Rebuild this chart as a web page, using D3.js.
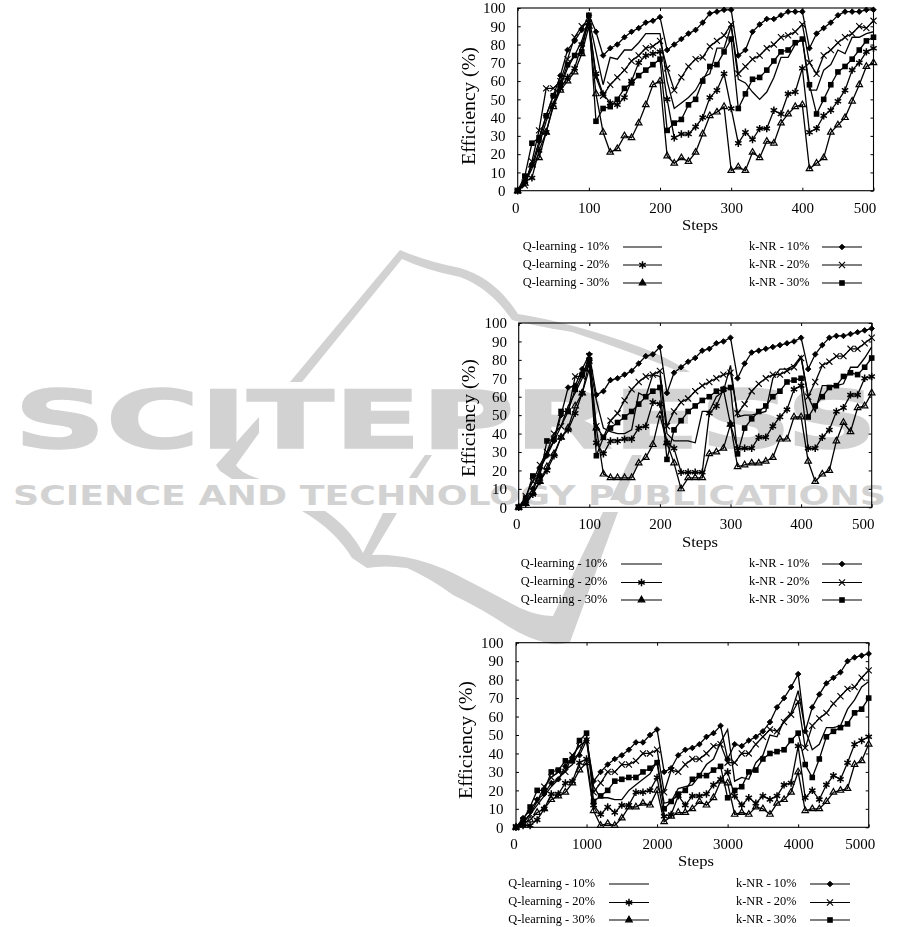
<!DOCTYPE html>
<html><head><meta charset="utf-8">
<script src="https://cdnjs.cloudflare.com/ajax/libs/d3/7.8.5/d3.min.js"></script>
<style>
html,body{margin:0;padding:0;background:#fff}
svg{display:block;font-family:"Liberation Serif",serif}
</style></head><body><svg id="c" width="901" height="927"></svg>
<script>
// ---------- chart 1 (steps 0..500, every 10)
const a_Q10=[0,4,12,25,38,48,57,67,74,82,94,76,58,73,72,77,77,81,86,86,86,60,45,48,51,55,62,64,78,78,90,61,59,54,50,54,62,73,73,80,83,55,55,66,69,77,75,84,84,86,87];
const a_Q20=[0,5,7,22,32,47,56,62,67,80,92,64,53,48,47,51,60,70,74,75,76,50,29,31,31,35,40,51,55,64,45,26,32,28,34,34,44,42,53,54,67,32,34,41,44,49,55,66,70,76,78];
const a_Q30=[0,4,14,18,32,46,55,60,65,75,90,53,32,21,23,30,29,37,47,58,60,19,15,18,16,21,31,41,43,46,11,13,11,21,18,27,26,37,42,46,47,12,15,18,32,36,40,49,58,68,70];
const a_K10=[0,5,14,27,41,52,63,77,82,88,96,87,74,78,80,84,87,89,92,93,95,77,80,83,86,88,92,97,98,99,99,74,77,87,91,94,94,96,98,98,98,78,86,89,92,96,98,98,98,99,99];
const a_K20=[0,3,16,33,56,56,60,72,84,90,92,62,52,58,62,66,71,74,78,79,82,67,55,62,68,72,73,79,82,85,91,64,68,72,74,78,80,84,85,87,91,70,64,74,77,81,84,86,90,89,93];
const a_K30=[0,8,26,29,41,52,58,69,74,76,96,38,45,46,50,56,59,63,66,69,72,33,37,39,47,50,60,68,69,76,83,45,53,61,62,66,71,76,77,81,83,58,42,50,58,65,68,72,77,82,84];
// ---------- chart 2 (steps 0..500, every 10)
const b_Q10=[0,3,8,20,30,36,44,55,62,70,79,58,43,41,40,40,42,62,60,72,71,40,36,36,36,35,52,52,60,63,77,49,50,50,51,52,70,75,75,77,82,60,52,66,66,66,67,76,76,81,87];
const b_Q20=[0,2,7,14,20,28,38,42,51,62,79,35,29,36,36,37,37,43,44,57,56,35,32,19,19,19,19,51,55,64,45,32,32,32,38,38,44,49,53,64,66,32,32,38,42,52,54,61,61,70,71];
const b_Q30=[0,2,8,14,22,29,38,43,55,62,75,43,18,16,16,16,16,24,27,34,50,35,24,10,16,16,16,29,30,32,45,22,23,24,24,25,27,37,37,49,49,25,14,18,20,36,46,41,54,55,62];
const b_K10=[0,4,10,21,28,36,50,65,66,75,83,61,63,69,70,72,74,78,82,83,87,62,73,76,79,81,85,86,89,90,92,70,78,84,85,86,87,88,89,90,92,75,83,88,92,93,93,94,95,96,97];
const b_K20=[0,6,14,23,30,40,44,52,71,71,82,44,38,47,51,58,64,68,71,72,74,44,52,57,59,63,66,68,70,72,73,51,56,63,67,70,72,72,74,76,81,60,68,77,79,82,82,86,86,89,92];
const b_K30=[0,5,17,17,36,37,52,52,64,72,80,28,38,43,46,49,52,56,60,63,65,26,42,47,52,55,58,60,63,64,65,29,43,48,52,55,60,63,68,69,70,49,55,60,65,66,71,73,72,76,81];
// ---------- chart 3 (steps 0..5000, every 100)
const c_Q10=[0,3,7,12,17,22,26,31,34,41,49,22,16,16,15,15,20,23,26,29,36,13,14,21,22,23,28,34,37,46,53,25,27,26,35,39,50,49,58,62,74,53,42,45,54,54,55,64,69,76,79];
const c_Q20=[0,1,1,4,10,18,18,24,25,35,37,12,7,11,8,12,12,19,19,20,27,6,7,17,12,17,17,18,23,26,30,17,12,16,13,17,15,17,23,24,44,16,20,15,23,28,26,35,45,47,49];
const c_Q30=[0,2,4,8,10,15,17,19,24,31,35,9,1,2,1,5,11,11,13,12,20,3,6,8,8,10,14,12,16,25,24,7,8,7,11,10,7,13,15,19,30,9,10,10,14,19,20,21,34,36,45];
const c_K10=[0,5,9,15,18,24,26,33,38,39,47,25,30,34,37,39,42,46,46,50,53,30,32,39,42,43,45,49,51,55,37,45,44,47,49,52,57,65,70,76,83,52,65,72,78,81,84,90,92,93,94];
const c_K20=[0,2,7,14,22,27,30,30,39,44,47,19,24,30,30,34,34,36,40,40,42,19,31,30,34,37,37,40,44,45,35,35,40,40,45,49,53,52,57,61,68,43,55,59,62,67,71,75,76,81,85];
const c_K30=[0,4,11,20,20,30,31,36,36,47,51,14,17,20,25,26,27,27,30,32,35,10,14,18,20,26,28,28,31,33,16,20,22,30,31,37,40,41,42,47,51,34,27,37,49,52,54,56,62,64,70];

const legendLabels=["Q-learning - 10%","Q-learning - 20%","Q-learning - 30%","k-NR - 10%","k-NR - 20%","k-NR - 30%"];
const yTicks=[0,10,20,30,40,50,60,70,80,90,100];
const xTicks1=[0,100,200,300,400,500];
const xTicks3=[0,1000,2000,3000,4000,5000];
const markers=["none","star","tri","dia","x","sq"];

const panels=[
 {series:[a_Q10,a_Q20,a_Q30,a_K10,a_K20,a_K30],step:10,xTicks:xTicks1,l:517.7,r:873.5,t:8,b:190.7,
  yLabelGap:12.2,xLabelGap:11.5,stepsX:700,stepsY:229.5,titleX:470,titleY:106,
  legY:[246,264,282],legT1:522.7,legL1:[623,662],legT2:749,legL2:[822,862]},
 {series:[b_Q10,b_Q20,b_Q30,b_K10,b_K20,b_K30],step:10,xTicks:xTicks1,l:518.7,r:871.7,t:323,b:507.3,
  yLabelGap:11.8,xLabelGap:11.5,stepsX:700,stepsY:546.5,titleX:470,titleY:418,
  legY:[563,581.5,599],legT1:520.7,legL1:[621,662],legT2:749,legL2:[822,862]},
 {series:[c_Q10,c_Q20,c_Q30,c_K10,c_K20,c_K30],step:100,xTicks:xTicks3,l:516,r:868.7,t:642.7,b:827.3,
  yLabelGap:12.5,xLabelGap:11.5,stepsX:696,stepsY:865.5,titleX:467,titleY:740,
  legY:[883,901.5,919],legT1:508.3,legL1:[609,649],legT2:736,legL2:[810,850]}
];

const svg=d3.select("#c");
const defs=svg.append("defs");
defs.append("filter").attr("id","soft").attr("x","-5%").attr("y","-5%").attr("width","110%").attr("height","110%")
  .append("feGaussianBlur").attr("stdDeviation",0.32);

// ---------- publisher watermark behind the charts
const wm=svg.append("g").attr("fill","#d2d2d2").attr("stroke","#d2d2d2").attr("stroke-width",0);
wm.append("text").attr("x",14).attr("y",448).attr("textLength",864).attr("lengthAdjust","spacingAndGlyphs").attr("stroke-width",1.5)
  .style("font-family","DejaVu Sans").style("font-weight","700").style("font-size","80px").text("SCITEPRESS");
wm.append("text").attr("x",13).attr("y",505).attr("textLength",873).attr("lengthAdjust","spacingAndGlyphs")
  .style("font-family","DejaVu Sans").style("font-weight","700").style("font-size","26px").text("SCIENCE AND TECHNOLOGY PUBLICATIONS");
[
 "M400,250L290,382H302L402,259Q425,270 460,277Q490,288 512,320Q530,325 572,332Q640,355 680,372H690Q665,356 640,347Q570,322 518,314Q495,278 460,268Q425,261 400,250Z",
 "M259,417V433L236,465Q240,473 260,479H232L220,471L216,465Z",
 "M445,433L442,444H438L439,434Z",
 "M425,455H432L417,478H409Z",
 "M632,455H642L622,500H610Z",
 "M302,511H325Q350,528 363,553L383,513H397L372,555Q410,553 453,573Q490,592 520,608Q538,616 553,616L603,512H618L570,642Q558,646 547,643Q525,638 503,623Q480,608 453,595Q430,578 407,568Q385,565 367,568L352,558Q335,530 302,511Z"
].forEach(d=>wm.append("path").attr("d",d));

// ---------- marker drawing
function drawMarker(sel,kind,x,y,legend){
  const k="#000";
  if(kind==="sq") sel.append("rect").attr("x",x-2.8).attr("y",y-2.8).attr("width",5.6).attr("height",5.6).attr("fill",k);
  if(kind==="dia") sel.append("path").attr("d",d3.symbol(d3.symbolDiamond2,20)()).attr("transform",`translate(${x},${y})`).attr("fill",k).attr("stroke",k).attr("stroke-width",.9);
  if(kind==="x") sel.append("path").attr("d",d3.symbol(d3.symbolX,26)()).attr("transform",`translate(${x},${y})`).attr("fill","none").attr("stroke",k).attr("stroke-width",1.1);
  if(kind==="star") sel.append("path").attr("d",d3.symbol(d3.symbolAsterisk,38)()).attr("transform",`translate(${x},${y})`).attr("fill","none").attr("stroke",k).attr("stroke-width",1.5);
  if(kind==="tri") sel.append("path").attr("d",d3.symbol(d3.symbolTriangle2,30)()).attr("transform",`translate(${x},${y})`).attr("fill",legend?k:"none").attr("stroke",k).attr("stroke-width",1.2);
}

panels.forEach(p=>{
  const g=svg.append("g").attr("class","panel").attr("filter","url(#soft)");
  const maxX=(p.series[0].length-1)*p.step;
  const x=d3.scaleLinear().domain([0,maxX]).range([p.l,p.r]);
  const y=d3.scaleLinear().domain([0,100]).range([p.b,p.t]);

  const fs="15px";
  const bottom=d3.axisBottom(x).tickValues(p.xTicks).tickFormat(d3.format("d")).tickSizeInner(-3).tickSizeOuter(0);
  const gb=g.append("g").attr("transform",`translate(0,${p.b})`).call(bottom);
  gb.selectAll("text").attr("y",p.xLabelGap).style("font-size",fs).style("font-family","Liberation Serif")
    .attr("dx",(d,i)=>i===0?-2.5:(i===p.xTicks.length-1?-9:0));
  const left=d3.axisLeft(y).tickValues(yTicks).tickSizeInner(-3).tickSizeOuter(0);
  const gl=g.append("g").attr("transform",`translate(${p.l},0)`).call(left);
  gl.selectAll("text").attr("x",-p.yLabelGap).style("font-size",fs).style("font-family","Liberation Serif");
  g.append("g").attr("transform",`translate(0,${p.t})`).call(d3.axisTop(x).tickValues(p.xTicks).tickSizeInner(-3).tickSizeOuter(0).tickFormat(""));
  g.append("g").attr("transform",`translate(${p.r},0)`).call(d3.axisRight(y).tickValues(yTicks).tickSizeInner(-3).tickSizeOuter(0).tickFormat(""));
  g.selectAll(".domain").remove();
  g.append("rect").attr("x",p.l).attr("y",p.t).attr("width",p.r-p.l).attr("height",p.b-p.t).attr("fill","none").attr("stroke","#000").attr("stroke-width",1.1);

  const line=d3.line().x((d,i)=>x(i*p.step)).y(d=>y(d));
  p.series.forEach((s,si)=>{
    g.append("path").datum(s).attr("d",line).attr("fill","none").attr("stroke","#000").attr("stroke-width",1.3);
    if(markers[si]!=="none") s.forEach((v,i)=>drawMarker(g,markers[si],x(i*p.step),y(v),false));
  });

  g.append("text").attr("x",p.stepsX).attr("y",p.stepsY).attr("text-anchor","middle")
    .attr("textLength",36).attr("lengthAdjust","spacingAndGlyphs").style("font-size","15.5px").text("Steps");
  g.append("text").attr("transform",`translate(${p.titleX+5},${p.titleY}) rotate(-90)`).attr("text-anchor","middle")
    .attr("textLength",118).attr("lengthAdjust","spacingAndGlyphs").style("font-size","19px").text("Efficiency (%)");

  legendLabels.forEach((lab,i)=>{
    const col=i<3?0:1, ly=p.legY[i%3];
    const tx=col?p.legT2:p.legT1, seg=col?p.legL2:p.legL1;
    g.append("text").attr("x",tx).attr("y",ly+3.8).style("font-size","12.4px").text(lab);
    g.append("line").attr("x1",seg[0]).attr("x2",seg[1]).attr("y1",ly+1).attr("y2",ly+1).attr("stroke","#000").attr("stroke-width",1.2);
    drawMarker(g,markers[i],(seg[0]+seg[1])/2,ly+1,true);
  });
});
</script></body></html>
